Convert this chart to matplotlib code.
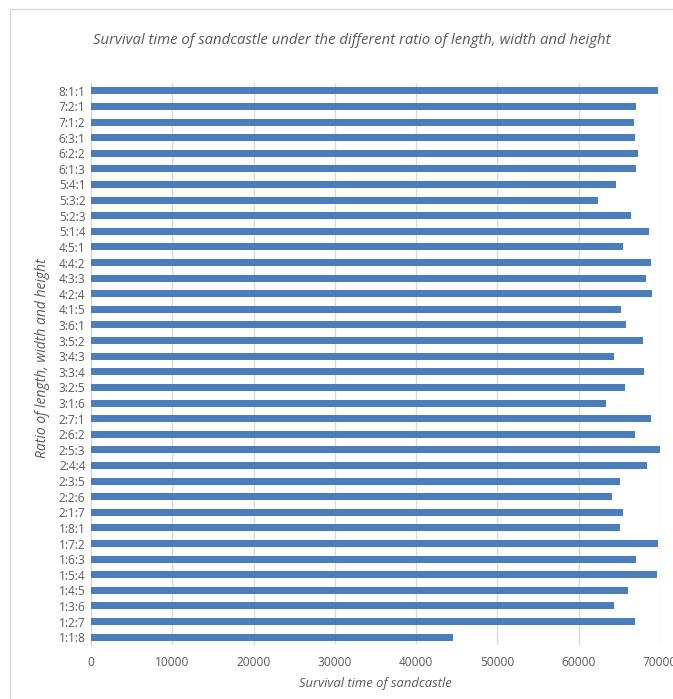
import matplotlib
matplotlib.use("Agg")
import matplotlib.pyplot as plt
from matplotlib.patches import Rectangle

# Ratios (length:width:height), listed bottom to top
ratios = [
    "1:1:8", "1:2:7", "1:3:6", "1:4:5", "1:5:4", "1:6:3", "1:7:2", "1:8:1",
    "2:1:7", "2:2:6", "2:3:5", "2:4:4", "2:5:3", "2:6:2", "2:7:1",
    "3:1:6", "3:2:5", "3:3:4", "3:4:3", "3:5:2", "3:6:1",
    "4:1:5", "4:2:4", "4:3:3", "4:4:2", "4:5:1",
    "5:1:4", "5:2:3", "5:3:2", "5:4:1",
    "6:1:3", "6:2:2", "6:3:1",
    "7:1:2", "7:2:1",
    "8:1:1",
]
survival = [
    44500, 66900, 64400, 66100, 69650, 67100, 69800, 65100,
    65400, 64100, 65100, 68400, 70100, 66900, 68900,
    63350, 65750, 68000, 64300, 67950, 65850,
    65250, 69000, 68250, 68900, 65450,
    68650, 66450, 62350, 64600,
    67100, 67350, 66950,
    66850, 67100,
    69750,
]
x_ticks = [0, 10000, 20000, 30000, 40000, 50000, 60000, 70000]

W, H = 673, 699
fig = plt.figure(figsize=(W / 100, H / 100), dpi=100)
fig.patch.set_facecolor("white")

# chart frame
fig.add_artist(Rectangle((10 / W, -0.05), 1.0, 1 - 9 / H + 0.05,
                         transform=fig.transFigure, fill=False,
                         edgecolor="#D9D9D9", linewidth=1.0))

left, right = 91 / W, 660 / W
top, bottom = 1 - 83 / H, 1 - 645 / H
ax = fig.add_axes([left, bottom, right - left, top - bottom])

font = ["Open Sans", "DejaVu Sans"]
text_color = "#595959"

ypos = list(range(len(ratios)))
ax.barh(ypos, survival, height=0.45, color="#4A7EBB", zorder=3)

ax.set_xlim(0, 70000)
ax.set_ylim(-0.5, len(ratios) - 0.5)
ax.set_xticks(x_ticks)
ax.set_xticklabels([str(t) for t in x_ticks], fontsize=8.6, color=text_color,
                   family=font)
ax.set_yticks(ypos)
ax.set_yticklabels(ratios, fontsize=8.6, color=text_color, family=font)
ax.tick_params(axis="both", length=0)
ax.tick_params(axis="x", pad=8)
ax.tick_params(axis="y", pad=4)

ax.grid(axis="x", color="#D9D9D9", linewidth=1.0, zorder=0)
for s in ["top", "right", "bottom"]:
    ax.spines[s].set_visible(False)
ax.spines["left"].set_color("#D9D9D9")
ax.spines["left"].set_linewidth(1.0)

fig.text(352 / W, 1 - 40 / H,
         "Survival time of sandcastle under the different ratio of length, width and height",
         ha="center", va="center", fontsize=10.7, style="italic",
         color=text_color, family=font)
fig.text(375 / W, 1 - 683 / H, "Survival time of sandcastle",
         ha="center", va="center", fontsize=9.4, style="italic",
         color=text_color, family=font)
fig.text(43 / W, 1 - 358 / H, "Ratio of length, width and height",
         ha="center", va="center", rotation=90, fontsize=10, style="italic",
         color=text_color, family=font)

fig.savefig("out.png", dpi=100, facecolor="white")
